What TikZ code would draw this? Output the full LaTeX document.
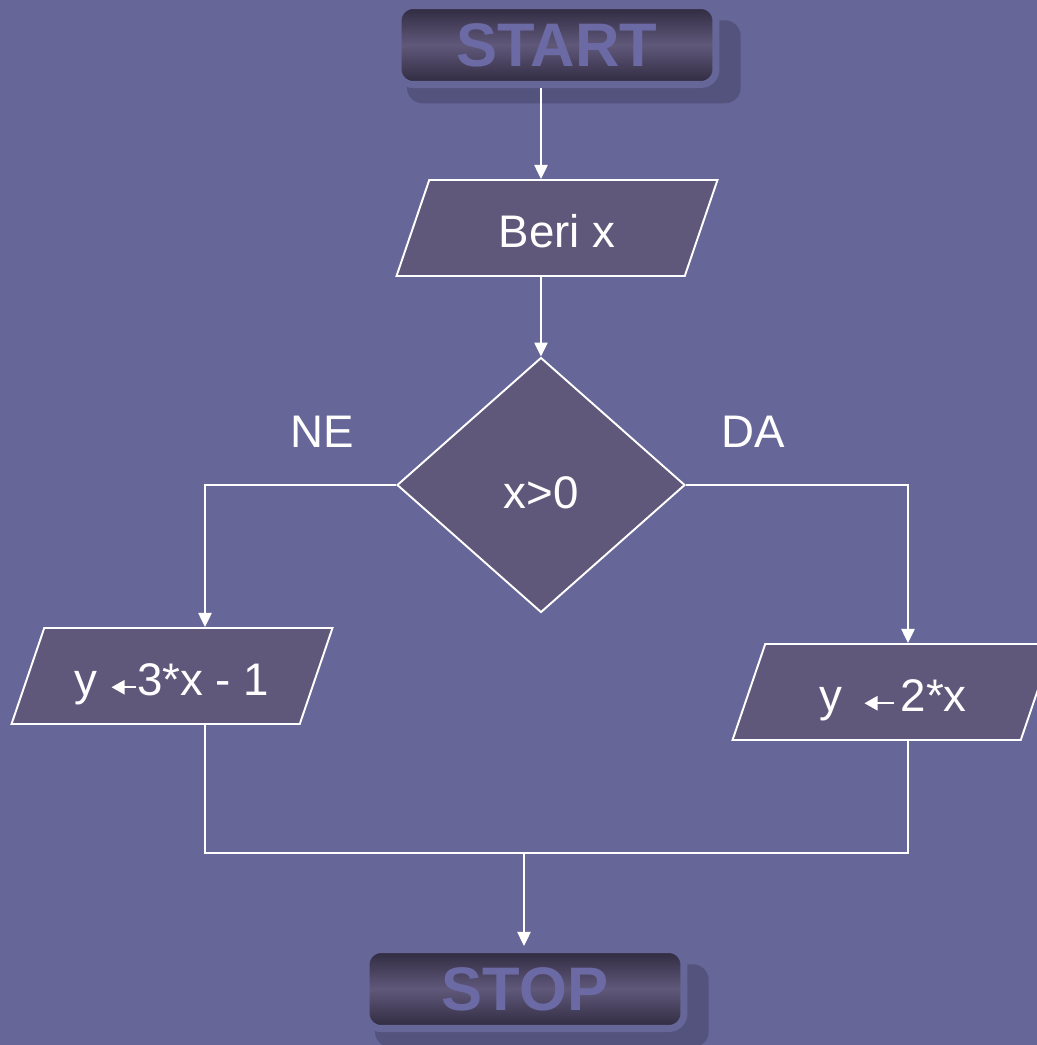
\documentclass[tikz,border=0pt]{standalone}
\usepackage{fontspec}
\setmainfont{Liberation Sans}
\usetikzlibrary{shapes.geometric,arrows.meta,shadows}

\definecolor{slate}{RGB}{102,102,153}
\definecolor{boxfill}{RGB}{96,88,122}
\definecolor{shadowcol}{RGB}{84,83,126}
\definecolor{termdark}{RGB}{46,41,62}
\definecolor{termtext}{RGB}{108,106,164}

% small filled arrow used for assignment inside the boxes
\newcommand{\leftgets}[1]{\tikz[baseline=-4.6pt]\draw[white, line width=1.4pt,
  -{Triangle[width=8pt,length=7.5pt,fill=white]}] (#1,0) -- (0pt,0);}

\tikzset{
  flow/.style={draw=white, line width=1.1pt,
    -{Triangle[width=7.5pt,length=8pt,fill=white]}},
  link/.style={draw=white, line width=1.1pt},
  term/.style={rounded corners=0.3cm, draw=slate, line width=4pt,
    minimum width=6.36cm, minimum height=1.58cm,
    top color=termdark, bottom color=termdark, middle color=boxfill,
    text=termtext, font=\fontsize{35}{40}\selectfont\bfseries,
    general shadow={fill=shadowcol, shadow xshift=0.32cm, shadow yshift=-0.32cm,
      shadow scale=1.05}},
  io/.style={trapezium, trapezium left angle=57, trapezium right angle=123,
    trapezium stretches body, draw=white, line width=1.1pt, fill=boxfill,
    minimum width=6.42cm, minimum height=1.92cm, text height=22pt, text depth=0pt,
    text=white, font=\fontsize{26}{30}\selectfont},
  test/.style={diamond, aspect=1.13, draw=white, line width=1.1pt, fill=boxfill,
    minimum width=5.76cm, minimum height=5.1cm, inner sep=0pt,
    text height=27pt, text depth=0pt,
    text=white, font=\fontsize{26}{30}\selectfont},
  lbl/.style={text=white, font=\fontsize{26}{30}\selectfont}
}

\begin{document}
\begin{tikzpicture}[x=0.02cm, y=-0.02cm]
  \useasboundingbox (0,0) rectangle (1037,1045);
  \fill[slate] (0,0) rectangle (1037,1045);

  \node[term] (start) at (557,45) {START};
  \node[io]   (beri)  at (557,228) {Beri x};
  \node[test] (dec)   at (541,485) {x>0};
  \node[io]   (lft)   at (172,676) {y \leftgets{14pt}3*x - 1};
  \node[io]   (rgt)   at (893,692) {y\hspace{12pt}\leftgets{17pt}\hspace{3pt}2*x};
  \node[term] (stop)  at (525,989) {STOP};
  \node[lbl]  (ne)    at (322,432) {NE};
  \node[lbl]  (da)    at (753,432) {DA};

  % turning points of the two branches
  \coordinate (lturn) at (205,485);
  \coordinate (rturn) at (908,485);
  \coordinate (merge) at (524,853);

  \draw[flow] (start.south -| dec) -- (beri.north -| dec);
  \draw[flow] (beri.south -| dec) -- (dec.north);
  \draw[flow] (dec.west) -- (lturn) -- (lturn |- lft.north);
  \draw[flow] (dec.east) -- (rturn) -- (rturn |- rgt.north);
  \draw[link] (lturn |- lft.south) -- (lturn |- merge) -- (rturn |- merge) -- (rturn |- rgt.south);
  \draw[flow] (merge) -- (merge |- stop.north);
\end{tikzpicture}
\end{document}
